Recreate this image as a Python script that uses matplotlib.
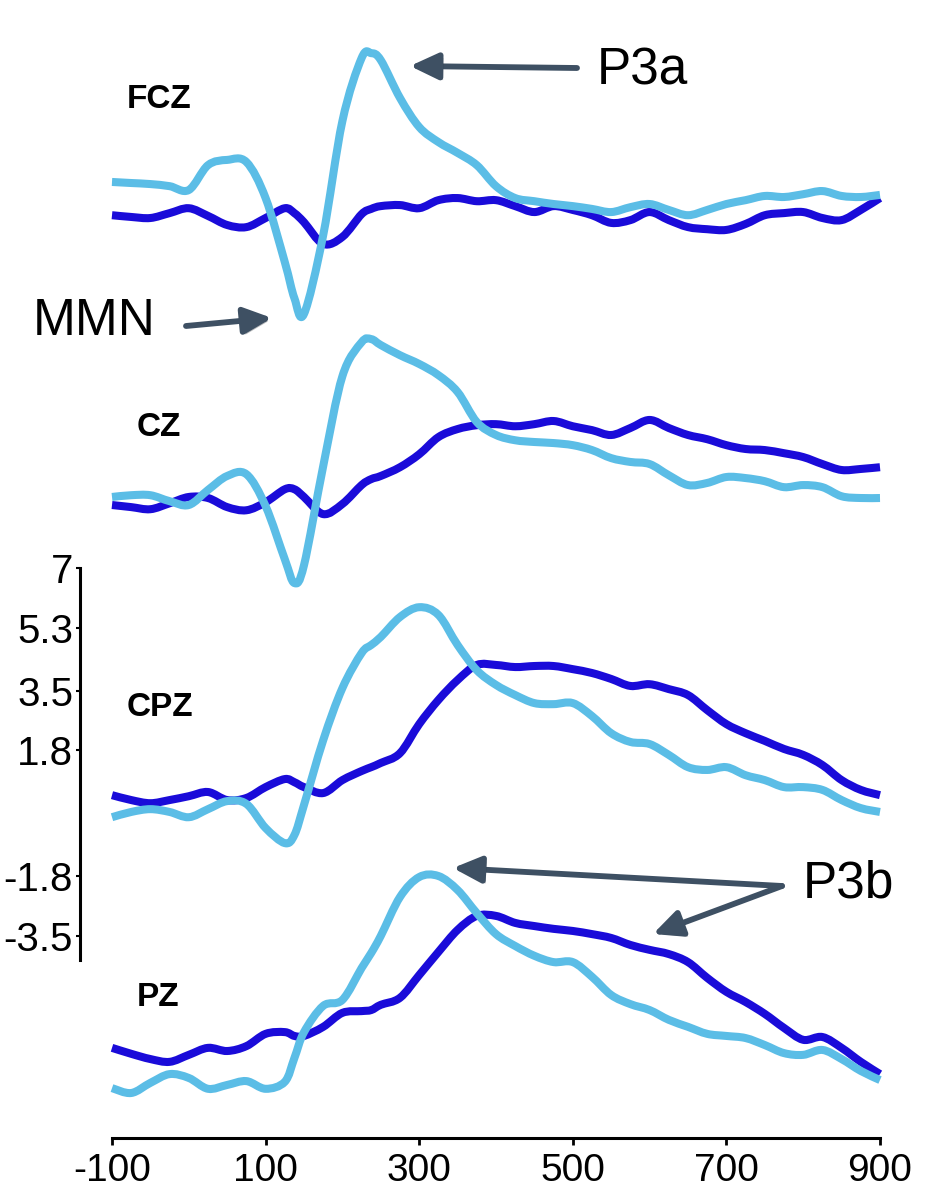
import matplotlib
matplotlib.use("Agg")
import matplotlib.pyplot as plt
import matplotlib.patheffects as pe
from matplotlib.path import Path
from matplotlib.patches import PathPatch

# time points (ms)
times = [-100, -75, -50, -25, 0, 25, 50, 75, 100, 125, 137.5, 150, 175, 200, 225, 237.5,
         250, 275, 300, 325, 350, 375, 400, 425, 450, 475, 500, 525, 550, 575, 600,
         625, 650, 675, 700, 725, 750, 775, 800, 825, 850, 875, 900]

# amplitudes (uV), dark = standard, light = deviant
fcz_dark = [-0.29, -0.34, -0.37, -0.23, -0.09, -0.31, -0.57, -0.63, -0.37, -0.09, -0.23, -0.49,
            -1.11, -0.91, -0.26, -0.11, -0.03, 0.00, -0.09, 0.14, 0.20, 0.11, 0.14, -0.03,
            -0.20, -0.03, -0.14, -0.29, -0.51, -0.43, -0.20, -0.43, -0.63, -0.69, -0.71,
            -0.54, -0.29, -0.23, -0.20, -0.37, -0.43, -0.14, 0.20]
fcz_light = [0.66, 0.63, 0.60, 0.54, 0.43, 1.14, 1.29, 1.23, 0.20, -1.63, -2.66, -3.11,
             -0.86, 2.40, 4.20, 4.34, 4.14, 3.06, 2.23, 1.80, 1.49, 1.14, 0.54, 0.20, 0.11,
             0.03, -0.03, -0.11, -0.20, -0.06, 0.03, -0.14, -0.29, -0.14, 0.03, 0.14, 0.26,
             0.23, 0.31, 0.40, 0.26, 0.23, 0.29]
cz_dark = [-0.14, -0.20, -0.26, -0.09, 0.09, 0.06, -0.20, -0.29, -0.06, 0.31, 0.31, 0.09,
           -0.40, -0.11, 0.43, 0.60, 0.69, 0.94, 1.31, 1.80, 2.03, 2.14, 2.17, 2.11, 2.17,
           2.26, 2.11, 2.00, 1.86, 2.06, 2.29, 2.06, 1.86, 1.74, 1.57, 1.46, 1.43, 1.34,
           1.23, 1.03, 0.86, 0.89, 0.94]
cz_light = [0.09, 0.14, 0.14, -0.03, -0.14, 0.29, 0.69, 0.74, -0.17, -1.69, -2.37, -1.86,
            0.97, 3.54, 4.51, 4.60, 4.43, 4.14, 3.89, 3.57, 3.09, 2.23, 1.86, 1.71, 1.66,
            1.63, 1.57, 1.43, 1.20, 1.09, 1.03, 0.71, 0.43, 0.49, 0.66, 0.63, 0.54, 0.37,
            0.43, 0.37, 0.11, 0.06, 0.06]
cpz_dark = [0.14, 0.00, -0.09, 0.00, 0.11, 0.23, 0.00, 0.06, 0.37, 0.60, 0.51, 0.37, 0.20,
            0.57, 0.83, 0.94, 1.06, 1.34, 2.17, 2.86, 3.43, 3.86, 3.86, 3.80, 3.83, 3.83,
            3.74, 3.63, 3.46, 3.26, 3.31, 3.17, 3.00, 2.57, 2.17, 1.91, 1.69, 1.46, 1.29,
            1.00, 0.57, 0.29, 0.14]
cpz_light = [-0.49, -0.34, -0.26, -0.34, -0.49, -0.26, -0.03, -0.11, -0.80, -1.23, -1.00,
             -0.14, 1.71, 3.20, 4.20, 4.43, 4.66, 5.23, 5.51, 5.29, 4.43, 3.71, 3.29, 3.00,
             2.77, 2.74, 2.77, 2.40, 1.91, 1.66, 1.60, 1.29, 0.94, 0.86, 0.94, 0.71, 0.57,
             0.37, 0.37, 0.29, 0.00, -0.23, -0.34]
pz_dark = [0.06, -0.11, -0.26, -0.34, -0.14, 0.06, -0.03, 0.11, 0.46, 0.51, 0.40, 0.40,
           0.66, 1.06, 1.11, 1.14, 1.29, 1.49, 2.14, 2.80, 3.43, 3.83, 3.83, 3.63, 3.54,
           3.46, 3.40, 3.31, 3.20, 3.00, 2.86, 2.74, 2.51, 2.06, 1.66, 1.37, 1.03, 0.63,
           0.29, 0.37, 0.06, -0.34, -0.69]
pz_light = [-1.09, -1.23, -0.94, -0.69, -0.80, -1.11, -1.00, -0.89, -1.11, -0.91, -0.23,
            0.51, 1.26, 1.43, 2.34, 2.77, 3.26, 4.37, 4.94, 4.97, 4.57, 3.91, 3.31, 2.97,
            2.69, 2.51, 2.51, 2.09, 1.57, 1.31, 1.14, 0.86, 0.66, 0.46, 0.40, 0.34, 0.14,
            -0.09, -0.14, 0.00, -0.26, -0.60, -0.86]

channels = ["FCZ", "CZ", "CPZ", "PZ"]
dark_series = [fcz_dark, cz_dark, cpz_dark, pz_dark]
light_series = [fcz_light, cz_light, cpz_light, pz_light]
offsets = [17.37, 8.94, 0.37, -6.77]   # vertical stacking (uV)

x_ticks = [-100, 100, 300, 500, 700, 900]
y_ticks = [7, 5.3, 3.5, 1.8, -1.8, -3.5]

dark_col = "#1a0bd9"
light_col = "#5bbde6"
arrow_col = "#3e5063"

plt.rcParams["font.family"] = ["Liberation Sans", "DejaVu Sans"]


def smooth_path(xs, ys):
    # curve drawn through the measured points (bezier segments, no new samples)
    pts = list(zip(xs, ys))
    n = len(pts)
    verts = [pts[0]]
    codes = [Path.MOVETO]
    for i in range(n - 1):
        p0 = pts[i - 1] if i > 0 else pts[i]
        p1 = pts[i]
        p2 = pts[i + 1]
        p3 = pts[i + 2] if i + 2 < n else pts[i + 1]
        c1 = (p1[0] + (p2[0] - p0[0]) / 6, p1[1] + (p2[1] - p0[1]) / 6)
        c2 = (p2[0] - (p3[0] - p1[0]) / 6, p2[1] - (p3[1] - p1[1]) / 6)
        verts += [c1, c2, p2]
        codes += [Path.CURVE4] * 3
    return Path(verts, codes)


fig = plt.figure(figsize=(9.37, 12), dpi=100)
ax = fig.add_axes([0, 0, 1, 1])
ax.patch.set_alpha(0)

# 0.768 px per ms, 35 px per uV
ax.set_xlim(-245.83, 974.22)
ax.set_ylim(-11.057, 23.229)

for dark, light, off in zip(dark_series, light_series, offsets):
    for vals, col in ((dark, dark_col), (light, light_col)):
        ax.add_patch(PathPatch(smooth_path(times, [v + off for v in vals]), fill=False,
                               edgecolor=col, lw=5.8, capstyle="butt", joinstyle="round"))

ax.spines["top"].set_visible(False)
ax.spines["right"].set_visible(False)
ax.spines["bottom"].set_position(("data", -9.286))
ax.spines["bottom"].set_bounds(-100, 900)
ax.spines["left"].set_position(("data", -141.7))
ax.spines["left"].set_bounds(-4.2, 7)
for s in ("bottom", "left"):
    ax.spines[s].set_linewidth(2.2)
    ax.spines[s].set_color("black")

ax.set_xticks(x_ticks)
ax.set_xticklabels([str(t) for t in x_ticks])
ax.set_yticks(y_ticks)
ax.set_yticklabels([str(t) for t in y_ticks])
ax.tick_params(axis="x", direction="out", length=5, width=2, pad=6, labelsize=28)
ax.tick_params(axis="y", direction="out", length=3, width=1.5, pad=2, labelsize=29)

# channel labels (figure pixel positions)
label_pos = [(127, 100), (137, 427), (127, 707), (137, 998)]
for name, (px, py) in zip(channels, label_pos):
    fig.text(px / 937, 1 - py / 1200, name, fontsize=24, fontweight="bold",
             ha="left", va="center")

shadow = [pe.withSimplePatchShadow(offset=(2, -2), alpha=0.3)]
arrow_kw = dict(arrowstyle="-|>,head_length=0.85,head_width=0.4", color=arrow_col,
                lw=4.2, mutation_scale=20, shrinkA=0, shrinkB=0, path_effects=shadow)


def fig_px(px, py):
    return (px, 1200 - py)


ax.text(597 / 937, 1 - 71 / 1200, "P3a", transform=fig.transFigure, fontsize=37,
        ha="left", va="center")
ax.annotate("", xy=fig_px(410, 66), xytext=fig_px(577, 68), xycoords="figure pixels",
            textcoords="figure pixels", arrowprops=arrow_kw)

ax.text(33 / 937, 1 - 321 / 1200, "MMN", transform=fig.transFigure, fontsize=37,
        ha="left", va="center")
ax.annotate("", xy=fig_px(272, 318), xytext=fig_px(186, 326), xycoords="figure pixels",
            textcoords="figure pixels", arrowprops=arrow_kw)

ax.text(803 / 937, 1 - 884 / 1200, "P3b", transform=fig.transFigure, fontsize=37,
        ha="left", va="center")
ax.annotate("", xy=fig_px(453, 868), xytext=fig_px(782, 886), xycoords="figure pixels",
            textcoords="figure pixels", arrowprops=arrow_kw)
ax.annotate("", xy=fig_px(653, 934), xytext=fig_px(782, 886), xycoords="figure pixels",
            textcoords="figure pixels", arrowprops=arrow_kw)

fig.savefig("out.png", dpi=100, facecolor="white")
